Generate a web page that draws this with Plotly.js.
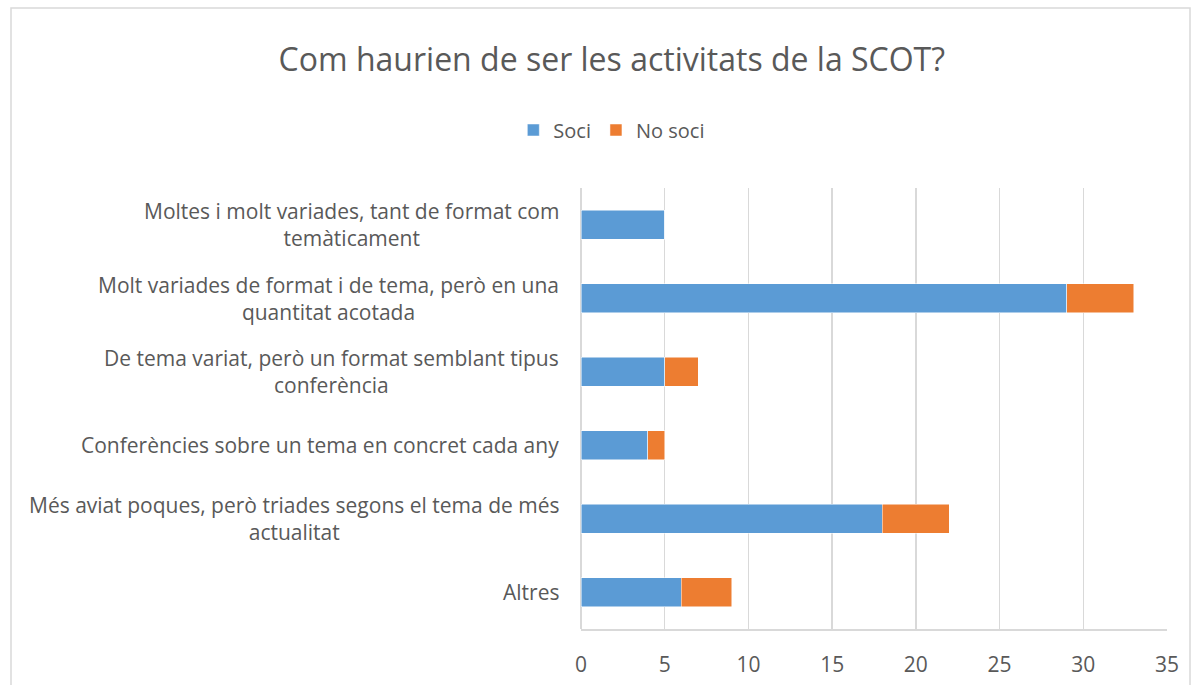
<!DOCTYPE html>
<html>
<head>
<meta charset="utf-8">
<script src="https://cdn.plot.ly/plotly-3.0.1.min.js"></script>
<style>
html,body{margin:0;padding:0;background:#fff;}
#chart{width:1202px;height:685px;}
</style>
</head>
<body>
<div id="chart"></div>
<script>
const categories = [
  "Moltes i molt variades, tant de format com<br>temàticament",
  "Molt variades de format i de tema, però en una<br>quantitat acotada",
  "De tema variat, però un format semblant tipus<br>conferència",
  "Conferències sobre un tema en concret cada any",
  "Més aviat poques, però triades segons el tema de més<br>actualitat",
  "Altres"
];
const soci = [5, 29, 5, 4, 18, 6];
const noSoci = [0, 4, 2, 1, 4, 3];
const xTicks = [0, 5, 10, 15, 20, 25, 30, 35];

const FONT = "'Open Sans', sans-serif";
const traces = [
  {type:'bar', orientation:'h', name:'Soci', y:categories, x:soci,
   marker:{color:'#5b9bd5', line:{color:'#ffffff', width:0.5}}},
  {type:'bar', orientation:'h', name:'No soci', y:categories, x:noSoci,
   marker:{color:'#ed7d31', line:{color:'#ffffff', width:0.5}}}
];
const catLabels = categories.map((c, i) => ({
  text:c, xref:'paper', x:0, xanchor:'right', xshift:-20, yref:'y', y:i, yanchor:'middle',
  align:'center', showarrow:false, font:{family:FONT, size:21, color:'#595959'}
}));
const layout = {
  width:1202, height:685,
  paper_bgcolor:'#fff', plot_bgcolor:'#fff',
  margin:{l:581, r:35, t:188, b:56},
  barmode:'stack', bargap:0.6,
  font:{family:FONT, color:'#595959', size:20},
  title:{text:'Com haurien de ser les activitats de la SCOT?', x:0.509, xref:'container', xanchor:'center',
         y:1-60/685, yref:'container', yanchor:'middle', font:{family:FONT, size:32, color:'#595959'}},
  showlegend:true,
  legend:{orientation:'h', xref:'container', yref:'container', x:0.509, xanchor:'center', y:1-130/685, yanchor:'middle',
          font:{family:FONT, size:20, color:'#595959'}, itemwidth:30, traceorder:'normal'},
  xaxis:{range:[0,35], tickvals:xTicks, ticktext:xTicks.map(String), showgrid:true, gridcolor:'#d9d9d9', gridwidth:1.5,
         zeroline:true, zerolinecolor:'#d9d9d9', zerolinewidth:1.5, showline:true, linecolor:'#d9d9d9', linewidth:1.5,
         ticks:'outside', ticklen:16, tickcolor:'rgba(0,0,0,0)', fixedrange:true,
         tickfont:{family:FONT, size:21, color:'#595959'}},
  yaxis:{autorange:'reversed', type:'category', showgrid:false, zeroline:false, showline:false,
         showticklabels:false, ticks:''},
  annotations:catLabels,
  shapes:[{type:'rect', xref:'paper', yref:'paper', x0:-570/586, x1:(1190-581)/586, y0:-0.2, y1:(629-8)/441,
           line:{color:'#d9d9d9', width:1.5}, fillcolor:'rgba(0,0,0,0)', layer:'below'}]
};
Plotly.newPlot('chart', traces, layout, {displayModeBar:false, staticPlot:true});
</script>
</body>
</html>
